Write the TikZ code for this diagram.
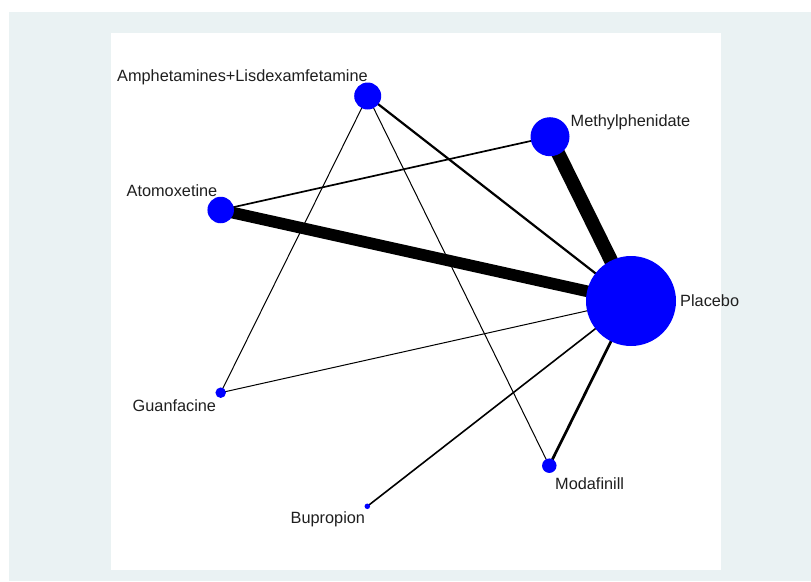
\documentclass[tikz,border=0pt]{standalone}
\usepackage{fontspec}
\setmainfont{Liberation Sans}
\pgfdeclarelayer{bg}
\pgfdeclarelayer{edges}
\pgfsetlayers{bg,edges,main}
\definecolor{outerbg}{HTML}{EAF2F3}
\definecolor{nodeblue}{HTML}{0000FF}
\begin{document}
\begin{tikzpicture}[x=1pt,y=-1pt,
  trt/.style={circle,fill=nodeblue,draw=none,inner sep=0pt,minimum size=#1},
  lbl/.style={inner sep=0pt,font=\fontsize{16.3}{19}\selectfont,text=black!88},
  link/.style={draw=black,line width=#1,line cap=butt}]
\useasboundingbox (0,0) rectangle (811,581);
\begin{pgfonlayer}{bg}
  \fill[white] (0,0) rectangle (811,581);
  \fill[outerbg] (9,12) rectangle (811,581);
  \fill[white] (111,33) rectangle (721,570);
\end{pgfonlayer}

% treatments
\node[trt=90pt]   (pla) at (631,301) {};
\node[trt=39pt]   (met) at (550,136.7) {};
\node[trt=27pt]   (amp) at (367.7,96) {};
\node[trt=26.5pt] (ato) at (220.7,210) {};
\node[trt=10.5pt] (gua) at (220.7,392.7) {};
\node[trt=5.5pt]  (bup) at (367.3,506.3) {};
\node[trt=14.5pt] (mod) at (549.3,465.7) {};

% treatment names
\node[lbl,anchor=base west] (lamp) at (117,81.5) {Amphetamines+Lisdexamfetamine};
\node[lbl,anchor=base west] (lato) at (126.5,196.5) {Atomoxetine};
\node[lbl,anchor=base west] (lmet) at (570.5,126) {Methylphenidate};
\node[lbl,anchor=base west] (lpla) at (680,306.5) {Placebo};
\node[lbl,anchor=base west] (lgua) at (132.5,411) {Guanfacine};
\node[lbl,anchor=base west] (lbup) at (290.5,523.3) {Bupropion};
\node[lbl,anchor=base west] (lmod) at (555,489) {Modafinill};

% comparisons, width by number of studies
\begin{pgfonlayer}{edges}
  \draw[link=14pt]  (met.center) -- (pla.center);
  \draw[link=11.7pt] (ato.center) -- (pla.center);
  \draw[link=2.2pt] (amp.center) -- (pla.center);
  \draw[link=2.7pt] (mod.center) -- (pla.center);
  \draw[link=1.7pt] (ato.center) -- (met.center);
  \draw[link=1.6pt] (bup.center) -- (pla.center);
  \draw[link=1pt]   (gua.center) -- (pla.center);
  \draw[link=1pt]   (amp.center) -- (gua.center);
  \draw[link=1pt]   (amp.center) -- (mod.center);
\end{pgfonlayer}
\end{tikzpicture}
\end{document}
